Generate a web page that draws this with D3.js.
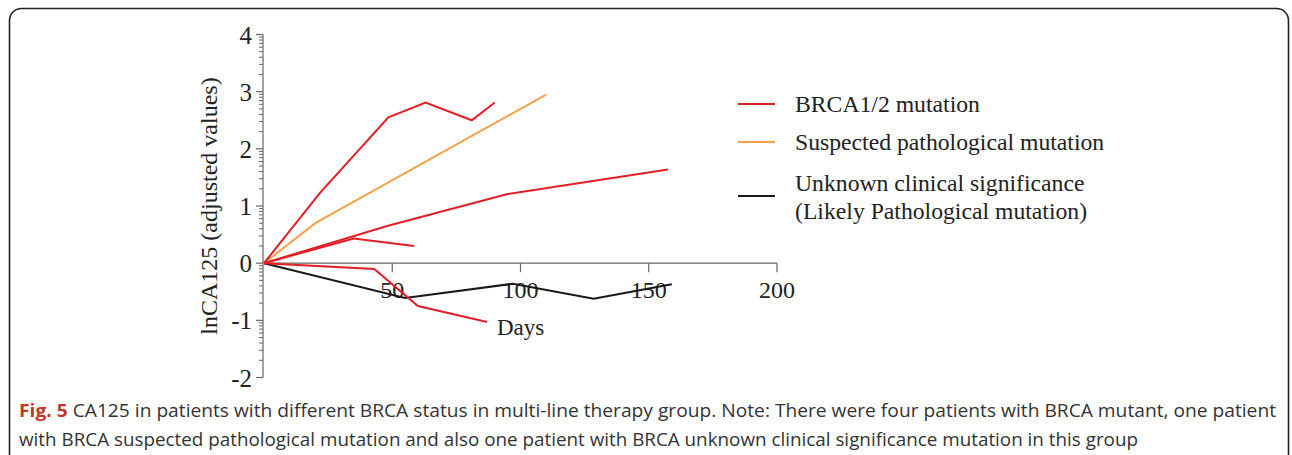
<!DOCTYPE html>
<html><head><meta charset="utf-8">
<script src="https://cdn.jsdelivr.net/npm/d3@7"></script>
<style>
html,body{margin:0;padding:0;background:#fff;}
svg{display:block;}
</style></head>
<body>
<svg id="chart" width="1292" height="455"></svg>
<script>
// ---- data ----
const brcaPatients = [
  [[0,0],[22,1.24],[48.5,2.55],[63,2.81],[81,2.50],[90,2.81]],
  [[0,0],[48,0.65],[95,1.21],[157.5,1.64]],
  [[0,0],[35,0.43],[58.5,0.30]],
  [[0,0],[43,-0.1],[60,-0.75],[87,-1.03]]
];
const suspectedPatient = [[0,0],[20,0.7],[110,2.95]];
const unknownPatient = [[0,0],[55,-0.61],[97,-0.36],[128.5,-0.62],[159,-0.37]];
const xTicks = [50,100,150,200];
const yTicks = [-2,-1,0,1,2,3,4];
const legendLabels = [["BRCA1/2 mutation"],["Suspected pathological mutation"],["Unknown clinical significance","(Likely Pathological mutation)"]];
const colors = ["#e41e26","#f4a24a","#1a1a1a"];

const svg = d3.select("#chart");
// frame
svg.append("rect").attr("x",9.5).attr("y",8.5).attr("width",1279).attr("height",470)
  .attr("rx",12).attr("fill","none").attr("stroke","#222").attr("stroke-width",1.6);

const x = d3.scaleLinear().domain([0,200]).range([264,777]);
const y = d3.scaleLinear().domain([-2,4]).range([377.5,34.5]);
const serif = "'Liberation Serif','Times New Roman',serif";
const axisCol = "#666";

// y axis
const yAxis = svg.append("g").attr("transform","translate(263,0)");
yAxis.append("line").attr("y1",y(4)).attr("y2",y(-2)).attr("stroke",axisCol).attr("stroke-width",1.2);
const minor = [];
for (let n=-1;n<=4;n++) for (let k=2;k<=9;k++) minor.push(n-1+Math.log10(k));
yAxis.selectAll("line.minor").data(minor).join("line").attr("class","minor")
  .attr("x1",-4).attr("x2",0).attr("y1",d=>y(d)).attr("y2",d=>y(d)).attr("stroke",axisCol).attr("stroke-width",1);
yAxis.selectAll("line.major").data(yTicks).join("line").attr("class","major")
  .attr("x1",-7).attr("x2",0).attr("y1",d=>y(d)).attr("y2",d=>y(d)).attr("stroke",axisCol).attr("stroke-width",1.2);
yAxis.selectAll("text").data(yTicks).join("text")
  .attr("x",-11).attr("y",d=>y(d)).attr("dy","0.36em").attr("text-anchor","end")
  .attr("font-family",serif).attr("font-size",25).attr("fill","#222")
  .text(d=>d<0?"-"+Math.abs(d):d);

// x axis
const xAxis = svg.append("g").attr("transform",`translate(0,${y(0)})`);
xAxis.append("line").attr("x1",x(0)).attr("x2",x(200)).attr("stroke",axisCol).attr("stroke-width",1.2);
xAxis.selectAll("line.t").data(xTicks).join("line").attr("class","t")
  .attr("x1",d=>x(d)).attr("x2",d=>x(d)).attr("y1",0).attr("y2",9).attr("stroke",axisCol).attr("stroke-width",1.2);
xAxis.selectAll("text").data(xTicks).join("text")
  .attr("x",d=>x(d)).attr("y",35).attr("text-anchor","middle")
  .attr("font-family",serif).attr("font-size",24).attr("fill","#222").text(d=>d);

// titles
svg.append("text").attr("transform","translate(217,206) rotate(-90)").attr("text-anchor","middle")
  .attr("font-family",serif).attr("font-size",24).attr("fill","#222").text("lnCA125 (adjusted values)");
svg.append("text").attr("x",497).attr("y",335).attr("font-family",serif).attr("font-size",23).attr("fill","#222").text("Days");

// lines
const line = d3.line().x(d=>x(d[0])).y(d=>y(d[1]));
svg.append("path").attr("d",line(unknownPatient)).attr("fill","none").attr("stroke",colors[2]).attr("stroke-width",2);
svg.append("path").attr("d",line(suspectedPatient)).attr("fill","none").attr("stroke",colors[1]).attr("stroke-width",2);
brcaPatients.forEach(p=>svg.append("path").attr("d",line(p)).attr("fill","none").attr("stroke",colors[0]).attr("stroke-width",2));

// legend
const legY = [104,142,196];
const leg = svg.append("g");
legendLabels.forEach((lab,i)=>{
  leg.append("line").attr("x1",738).attr("x2",775).attr("y1",legY[i]).attr("y2",legY[i]).attr("stroke",colors[i]).attr("stroke-width",2);
  const t = leg.append("text").attr("font-family",serif).attr("font-size",23.7).attr("fill","#222");
  if (lab.length===1) {
    t.attr("x",795).attr("y",legY[i]).attr("dy","0.35em").text(lab[0]);
  } else {
    t.append("tspan").attr("x",795).attr("y",183).attr("dy","0.35em").text(lab[0]);
    t.append("tspan").attr("x",795).attr("y",211).attr("dy","0.35em").text(lab[1]);
  }
});

// caption
const capFont = "'Open Sans','Noto Sans',sans-serif";
const c1 = svg.append("text").attr("x",19).attr("y",417).attr("font-family",capFont).attr("font-size",18.5).attr("fill","#333")
  .attr("textLength",1257).attr("lengthAdjust","spacingAndGlyphs");
c1.append("tspan").attr("font-weight","bold").attr("fill","#c0392b").text("Fig. 5");
c1.append("tspan").text(" CA125 in patients with different BRCA status in multi-line therapy group. Note: There were four patients with BRCA mutant, one patient");
svg.append("text").attr("x",19).attr("y",446).attr("font-family",capFont).attr("font-size",18.5).attr("fill","#333")
  .attr("textLength",1119).attr("lengthAdjust","spacingAndGlyphs")
  .text("with BRCA suspected pathological mutation and also one patient with BRCA unknown clinical significance mutation in this group");
</script>
</body></html>
